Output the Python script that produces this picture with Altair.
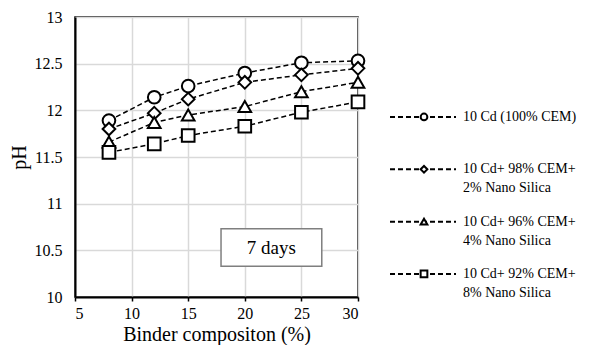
import altair as alt
import pandas as pd

# ---- data ----
binder = [8, 12, 15, 20, 25, 30]
series_names = ["10 Cd (100% CEM)", "10 Cd+ 98% CEM+ 2% Nano Silica",
                "10 Cd+ 96% CEM+ 4% Nano Silica", "10 Cd+ 92% CEM+ 8% Nano Silica"]
ph_cem100 = [11.89, 12.14, 12.26, 12.40, 12.51, 12.53]
ph_ns2 = [11.80, 11.97, 12.12, 12.30, 12.38, 12.45]
ph_ns4 = [11.66, 11.87, 11.95, 12.04, 12.20, 12.30]
ph_ns8 = [11.55, 11.64, 11.73, 11.83, 11.98, 12.09]
shapes = ["circle", "diamond", "triangle-up", "square"]
legend_line1 = ["10 Cd (100% CEM)", "10 Cd+ 98% CEM+", "10 Cd+ 96% CEM+", "10 Cd+ 92% CEM+"]
legend_line2 = ["", "2% Nano Silica", "4% Nano Silica", "8% Nano Silica"]
box_x = [17.9]
box_x2 = [26.8]
box_y = [10.33]
box_y2 = [10.73]
box_label = ["7 days"]

FONT = "Liberation Serif"

rows = []
for name, vals in zip(series_names, [ph_cem100, ph_ns2, ph_ns4, ph_ns8]):
    for x, v in zip(binder, vals):
        rows.append({"series": name, "binder": x, "ph": v})
df = pd.DataFrame(rows)

xs = alt.X("binder:Q", scale=alt.Scale(domain=[5, 30], nice=False),
           axis=alt.Axis(title="Binder compositon (%)", values=[5, 10, 15, 20, 25, 30],
                         tickSize=4, tickColor="black", tickWidth=1.5, labelPadding=4,
                         titlePadding=3, titleFontSize=20, labelFontSize=16,
                         domainColor="black", domainWidth=2))
ys = alt.Y("ph:Q", scale=alt.Scale(domain=[10, 13], nice=False),
           axis=alt.Axis(title="pH", values=[10, 10.5, 11, 11.5, 12, 12.5, 13], format="~g",
                         ticks=False, labelPadding=13, titlePadding=5, labelOverlap=False,
                         titleFontSize=20, labelFontSize=16,
                         domainColor="black", domainWidth=2))

shape_scale = alt.Scale(domain=series_names, range=shapes)

lines = alt.Chart(df).mark_line(color="black", strokeWidth=1.5, strokeDash=[5, 3]).encode(
    x=xs, y=ys, detail="series:N")
points = alt.Chart(df).mark_point(filled=True, fill="white", stroke="black", strokeWidth=2,
                                  size=160, opacity=1).encode(
    x="binder:Q", y="ph:Q",
    shape=alt.Shape("series:N", scale=shape_scale, legend=None))

box_df = pd.DataFrame({"x": box_x, "x2": box_x2, "y": box_y, "y2": box_y2, "label": box_label})
box = alt.Chart(box_df).mark_rect(fill="white", stroke="#7f7f7f", strokeWidth=1.5).encode(
    x="x:Q", x2="x2:Q", y="y:Q", y2="y2:Q")
box_text = alt.Chart(box_df).transform_calculate(
    xm="(datum.x + datum.x2) / 2", ym="(datum.y + datum.y2) / 2").mark_text(
    fontSize=19, font=FONT, color="black").encode(x="xm:Q", y="ym:Q", text="label:N")

main = alt.layer(lines, points, box, box_text).properties(width=283, height=280)

leg_df = pd.DataFrame({"row": [0, 1, 2, 3], "series": series_names,
                       "l1": legend_line1, "l2": legend_line2})
ly = alt.Y("row:Q", scale=alt.Scale(domain=[-1.91, 3.44], reverse=True, nice=False, zero=False),
           axis=None)
leg_line = alt.Chart(leg_df).mark_rule(color="black", strokeWidth=2, strokeDash=[5, 3]).encode(
    x=alt.value(10), x2=alt.value(76), y=ly)
leg_pt = alt.Chart(leg_df).mark_point(filled=True, fill="white", stroke="black", strokeWidth=2,
                                      size=45, opacity=1).encode(
    x=alt.value(44), y=alt.Y("row:Q", axis=None),
    shape=alt.Shape("series:N", scale=shape_scale, legend=None))
leg_t1 = alt.Chart(leg_df).mark_text(align="left", baseline="middle", fontSize=14, font=FONT,
                                     color="black").encode(
    x=alt.value(83), y=alt.Y("row:Q", axis=None), text="l1:N")
leg_t2 = alt.Chart(leg_df).mark_text(align="left", baseline="middle", fontSize=14, font=FONT,
                                     color="black", dy=19).encode(
    x=alt.value(83), y=alt.Y("row:Q", axis=None), text="l2:N")
legend = alt.layer(leg_line, leg_pt, leg_t1, leg_t2).properties(
    width=140, height=280, view=alt.ViewBackground(stroke=None))

chart = alt.hconcat(main, legend, spacing=10).properties(
    padding={"left": 0, "top": 0, "right": 0, "bottom": 0},
    autosize=alt.AutoSizeParams(type="pad"),
).configure(font=FONT, padding={"left": 0, "top": 0, "right": 0, "bottom": 0}
).configure_view(stroke="black", strokeWidth=1.5).configure_axis(
    gridColor="#d9d9d9", gridWidth=1.5, labelColor="black", titleColor="black",
    labelFont=FONT, titleFont=FONT, titleFontWeight="normal")

chart.save("out.html", embed_options={"renderer": "svg", "actions": False})
